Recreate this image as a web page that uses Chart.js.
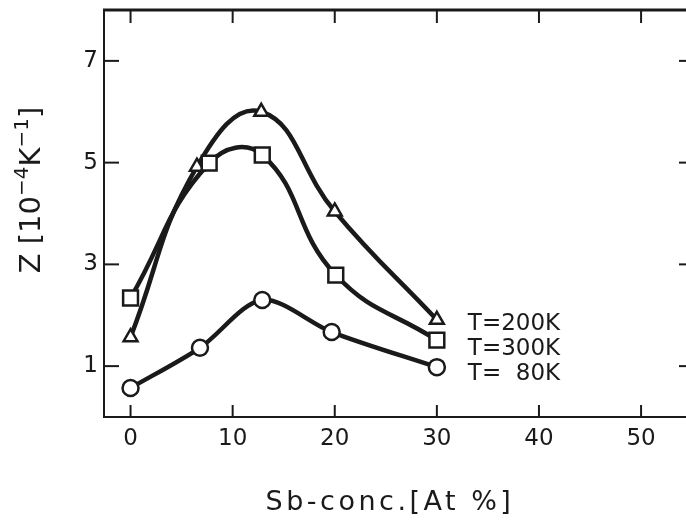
<!DOCTYPE html>
<html>
<head>
<meta charset="utf-8">
<script src="https://cdn.jsdelivr.net/npm/chart.js@4/dist/chart.umd.min.js"></script>
<style>
  html, body { margin: 0; padding: 0; background: #ffffff; overflow: hidden; }
  #wrap { width: 686px; height: 520px; }
  canvas { display: block; }
</style>
</head>
<body>
<div id="wrap"><canvas id="c" width="686" height="520"></canvas></div>
<script>
// ---- data ----
const concT200 = [0, 6.5, 12.8, 20.0, 30.0];
const zT200    = [1.57, 4.92, 6.0, 4.04, 1.91];
const concT300 = [0, 7.7, 12.9, 20.1, 30.0];
const zT300    = [2.34, 4.99, 5.15, 2.79, 1.51];
const concT80  = [0, 6.8, 12.9, 19.7, 30.0];
const zT80     = [0.57, 1.36, 2.30, 1.67, 0.98];
const seriesLabels = ['T=200K', 'T=300K', 'T=  80K'];
const xTickValues = [0, 10, 20, 30, 40, 50];
const yTickValues = [1, 3, 5, 7];
const xTitle = 'Sb-conc.[At %]';

const INK = '#1a1a1a';
const FONT = '"DejaVu Sans", sans-serif';

function pts(xs, ys) { return xs.map((v, i) => ({ x: v, y: ys[i] })); }

function baseDs(data, style, radius, order, tension) {
  return {
    data, order,
    showLine: true,
    borderColor: INK,
    borderWidth: 4.5,
    tension: tension,
    pointStyle: style,
    pointRadius: radius,
    pointBorderWidth: 2.5,
    pointBorderColor: INK,
    pointBackgroundColor: '#ffffff',
    fill: false
  };
}

function zeroPad(s) { s.paddingLeft = 0; s.paddingRight = 0; s.paddingTop = 0; s.paddingBottom = 0; }

const framePlugin = {
  id: 'frame',
  afterDraw(chart) {
    const { ctx, chartArea: a, scales: { x, y } } = chart;
    ctx.save();
    ctx.strokeStyle = INK;
    ctx.fillStyle = INK;
    const line = (x1, y1, x2, y2) => { ctx.beginPath(); ctx.moveTo(x1, y1); ctx.lineTo(x2, y2); ctx.stroke(); };
    // top frame line
    ctx.lineWidth = 3;
    line(a.left - 1, a.top, a.right, a.top);
    // inward ticks on all sides
    ctx.lineWidth = 2;
    xTickValues.forEach(v => {
      const px = x.getPixelForValue(v);
      line(px, a.bottom, px, a.bottom - 12);
      line(px, a.top, px, a.top + 13);
    });
    yTickValues.forEach(v => {
      const py = y.getPixelForValue(v);
      line(a.left, py, a.left + 15, py);
      line(a.right, py, a.right - 7, py);
    });
    // series labels
    ctx.font = '23px ' + FONT;
    ctx.textAlign = 'left';
    ctx.textBaseline = 'alphabetic';
    const lx = x.getPixelForValue(30) + 31;
    const ly0 = y.getPixelForValue(zT200[zT200.length - 1]) + 10;
    seriesLabels.forEach((t, i) => ctx.fillText(t, lx, ly0 + i * 25));
    // x title
    ctx.font = '27px ' + FONT;
    ctx.textAlign = 'center';
    try { ctx.letterSpacing = '3.5px'; } catch (e) {}
    ctx.fillText(xTitle, 390, 510);
    try { ctx.letterSpacing = '0px'; } catch (e) {}
    // y title (rotated) with superscripts
    ctx.translate(40, 190);
    ctx.rotate(-Math.PI / 2);
    const big = '29px ' + FONT, small = '20px ' + FONT;
    const segs = [
      { t: 'Z [10', f: big, dy: 0 },
      { t: '\u2212' + '4', f: small, dy: -12 },
      { t: 'K', f: big, dy: 0 },
      { t: '\u2212' + '1', f: small, dy: -12 },
      { t: ']', f: big, dy: 0 }
    ];
    let total = 0;
    segs.forEach(s => { ctx.font = s.f; s.w = ctx.measureText(s.t).width; total += s.w; });
    let cx = -total / 2;
    ctx.textAlign = 'left';
    segs.forEach(s => { ctx.font = s.f; ctx.fillText(s.t, cx, s.dy); cx += s.w; });
    ctx.restore();
  }
};

new Chart(document.getElementById('c'), {
  type: 'scatter',
  data: {
    datasets: [
      Object.assign(baseDs(pts(concT300, zT300), 'rect', 10.5, 0, 0.45), { label: seriesLabels[1] }),
      Object.assign(baseDs(pts(concT200, zT200), 'triangle', 8, 1, 0.45), { label: seriesLabels[0] }),
      Object.assign(baseDs(pts(concT80, zT80), 'circle', 8, 2, 0.3), { label: seriesLabels[2] })
    ]
  },
  options: {
    responsive: false,
    animation: false,
    events: [],
    layout: { autoPadding: false, padding: { top: 10, right: 0, left: 0, bottom: 0 } },
    plugins: { legend: { display: false }, tooltip: { enabled: false } },
    scales: {
      x: {
        type: 'linear',
        min: -2.6, max: 54.4,
        afterBuildTicks: s => { s.ticks = xTickValues.map(v => ({ value: v })); },
        afterFit: s => { s.height = 103; zeroPad(s); },
        grid: { display: false, drawTicks: false },
        border: { display: true, color: INK, width: 2 },
        ticks: { color: INK, font: { family: FONT, size: 23 }, padding: 8, maxRotation: 0 }
      },
      y: {
        type: 'linear',
        min: 0, max: 8,
        afterBuildTicks: s => { s.ticks = yTickValues.map(v => ({ value: v })); },
        afterFit: s => { s.width = 104; zeroPad(s); },
        grid: { display: false, drawTicks: false },
        border: { display: true, color: INK, width: 2 },
        ticks: { color: INK, font: { family: FONT, size: 23 }, padding: 6 }
      }
    }
  },
  plugins: [framePlugin]
});
</script>
</body>
</html>
